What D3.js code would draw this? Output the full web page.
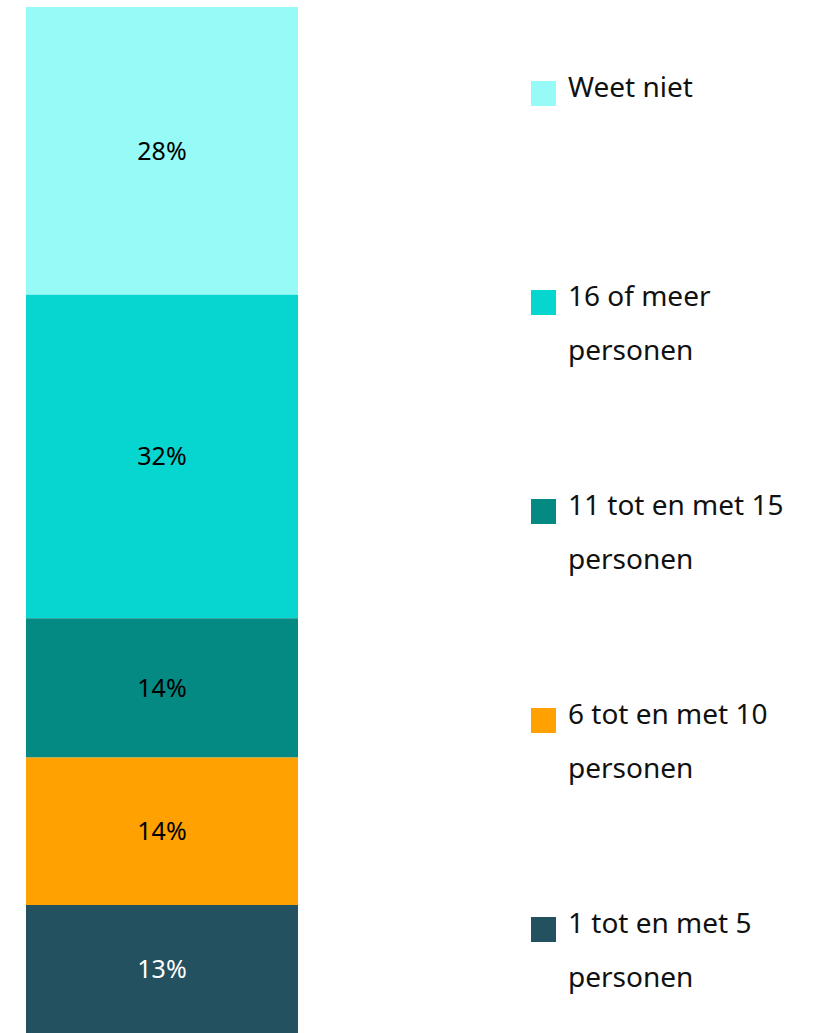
<!DOCTYPE html>
<html>
<head>
<meta charset="utf-8">
<script src="https://cdn.jsdelivr.net/npm/d3@7"></script>
<style>
  body { margin: 0; background: #fff; }
  text { font-family: "Noto Sans", sans-serif; }
</style>
</head>
<body>
<div id="chart"></div>
<script>
// categories, top of the bar first
var categories = ["Weet niet", "16 of meer personen", "11 tot en met 15 personen",
                  "6 tot en met 10 personen", "1 tot en met 5 personen"];
var legendLines = [["Weet niet"], ["16 of meer", "personen"], ["11 tot en met 15", "personen"],
                   ["6 tot en met 10", "personen"], ["1 tot en met 5", "personen"]];
var shares = [28.1, 31.6, 13.6, 14.4, 12.5];
var colors = ["#96faf6", "#07d5cf", "#058983", "#ffa100", "#235160"];
var labelColors = ["#000", "#000", "#000", "#000", "#fff"];

var width = 818, height = 1033;
var bar = { left: 26, right: 298, top: 7, bottom: 1033 };

var svg = d3.select("#chart").append("svg")
    .attr("width", width)
    .attr("height", height);

// stack the shares from the top down
var stacked = [];
var acc = 0;
shares.forEach(function(v, i) {
    stacked.push({ name: categories[i], value: v, y0: acc, y1: acc + v, i: i });
    acc += v;
});

var y = d3.scaleLinear()
    .domain([0, d3.sum(shares)])
    .range([bar.top, bar.bottom]);

var segs = svg.selectAll(".seg")
    .data(stacked).enter().append("g")
    .attr("class", "seg");

segs.append("rect")
    .attr("x", bar.left)
    .attr("width", bar.right - bar.left)
    .attr("y", function(d) { return y(d.y0); })
    .attr("height", function(d) { return y(d.y1) - y(d.y0); })
    .attr("fill", function(d) { return colors[d.i]; });

segs.append("text")
    .attr("x", (bar.left + bar.right) / 2)
    .attr("y", function(d) { return (y(d.y0) + y(d.y1)) / 2; })
    .attr("dy", "0.35em")
    .style("text-anchor", "middle")
    .style("font-size", "25px")
    .attr("fill", function(d) { return labelColors[d.i]; })
    .text(function(d) { return Math.round(d.value) + "%"; });

// legend
var ly = d3.scalePoint()
    .domain(categories)
    .range([81, 917]);

var items = svg.selectAll(".legend")
    .data(categories).enter().append("g")
    .attr("class", "legend")
    .attr("transform", function(d) { return "translate(531," + ly(d) + ")"; });

items.append("rect")
    .attr("width", 25)
    .attr("height", 25)
    .attr("fill", function(d, i) { return colors[i]; });

items.append("text")
    .attr("x", 37)
    .attr("y", 16)
    .style("font-size", "28px")
    .attr("fill", "#111")
    .selectAll("tspan")
    .data(function(d, i) { return legendLines[i]; })
    .enter().append("tspan")
    .attr("x", 37)
    .attr("dy", function(d, j) { return j === 0 ? 0 : 54; })
    .text(function(d) { return d; });
</script>
</body>
</html>
